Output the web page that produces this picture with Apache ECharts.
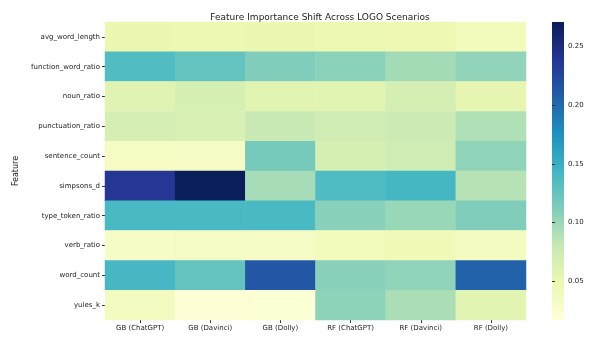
<!DOCTYPE html>
<html>
<head>
<meta charset="utf-8">
<script src="https://cdn.jsdelivr.net/npm/echarts@6/dist/echarts.min.js"></script>
<style>html,body{margin:0;padding:0;background:#fff;}#c{width:592px;height:338px;}</style>
</head>
<body>
<div id="c"></div>
<script>
const scenarios = ['GB (ChatGPT)', 'GB (Davinci)', 'GB (Dolly)', 'RF (ChatGPT)', 'RF (Davinci)', 'RF (Dolly)'];
const features = ['avg_word_length', 'function_word_ratio', 'noun_ratio', 'punctuation_ratio', 'sentence_count', 'simpsons_d', 'type_token_ratio', 'verb_ratio', 'word_count', 'yules_k'];
// one array per feature, values per scenario
const avg_word_length     = [0.050, 0.048, 0.050, 0.048, 0.047, 0.040];
const function_word_ratio = [0.136, 0.126, 0.112, 0.107, 0.096, 0.104];
const noun_ratio          = [0.060, 0.068, 0.058, 0.058, 0.070, 0.055];
const punctuation_ratio   = [0.070, 0.066, 0.080, 0.074, 0.076, 0.091];
const sentence_count      = [0.035, 0.033, 0.117, 0.068, 0.075, 0.105];
const simpsons_d          = [0.238, 0.270, 0.095, 0.137, 0.142, 0.088];
const type_token_ratio    = [0.140, 0.140, 0.140, 0.108, 0.101, 0.112];
const verb_ratio          = [0.032, 0.034, 0.033, 0.040, 0.043, 0.037];
const word_count          = [0.141, 0.126, 0.213, 0.108, 0.105, 0.205];
const yules_k             = [0.037, 0.020, 0.022, 0.106, 0.093, 0.058];
const colorbarTicks = [0.05, 0.10, 0.15, 0.20, 0.25];
const vMin = 0.017, vMax = 0.271;
const ylgnbu = ['#ffffd9', '#edf8b1', '#c7e9b4', '#7fcdbb', '#41b6c4', '#1d91c0', '#225ea8', '#253494', '#081d58'];

const rows = [avg_word_length, function_word_ratio, noun_ratio, punctuation_ratio, sentence_count, simpsons_d, type_token_ratio, verb_ratio, word_count, yules_k];
const data = [];
rows.forEach((r, yi) => r.forEach((v, xi) => data.push([xi, yi, v])));

const cbLeft = 552, cbTop = 22, cbW = 12, cbH = 298;
const gradStops = ylgnbu.map((c, i) => ({ offset: 1 - i / (ylgnbu.length - 1), color: c }));

const chart = echarts.init(document.getElementById('c'));
const font = 'DejaVu Sans';
chart.setOption({
  animation: false,
  backgroundColor: '#fff',
  title: {
    text: 'Feature Importance Shift Across LOGO Scenarios',
    left: 315, top: 8, textAlign: 'center',
    textStyle: { fontFamily: font, fontSize: 9, fontWeight: 'normal', color: '#222' }
  },
  grid: [
    { left: 105, right: 66, top: 22, bottom: 18 },
    { left: cbLeft, width: cbW, top: cbTop, height: cbH }
  ],
  xAxis: [
    { type: 'category', data: scenarios, gridIndex: 0,
      axisLine: { show: false }, splitLine: { show: false },
      axisTick: { show: true, alignWithLabel: true, length: 3, lineStyle: { color: '#333' } },
      axisLabel: { fontFamily: font, fontSize: 7, color: '#222', margin: 5 } },
    { type: 'value', gridIndex: 1, show: false }
  ],
  yAxis: [
    { type: 'category', data: features, gridIndex: 0, inverse: true,
      name: 'Feature', nameLocation: 'middle', nameGap: 81, nameRotate: 90,
      nameTextStyle: { fontFamily: font, fontSize: 8, color: '#222' },
      axisLine: { show: false }, splitLine: { show: false },
      axisTick: { show: true, alignWithLabel: true, length: 3, lineStyle: { color: '#333' } },
      axisLabel: { fontFamily: font, fontSize: 7, color: '#222', margin: 5 } },
    { type: 'value', gridIndex: 1, position: 'right', min: vMin, max: vMax,
      axisLine: { show: false }, splitLine: { show: false },
      axisTick: { show: true, length: 3, customValues: colorbarTicks, lineStyle: { color: '#333' } },
      axisLabel: { fontFamily: font, fontSize: 7, color: '#222', margin: 4,
        customValues: colorbarTicks, formatter: v => v.toFixed(2) } }
  ],
  visualMap: {
    type: 'continuous', show: false, min: vMin, max: vMax,
    inRange: { color: ylgnbu }, seriesIndex: 0
  },
  graphic: [{
    type: 'rect', left: cbLeft, top: cbTop, z: -1,
    shape: { width: cbW, height: cbH },
    style: { fill: new echarts.graphic.LinearGradient(0, 0, 0, 1, gradStops.slice().sort((a, b) => a.offset - b.offset)) }
  }],
  series: [{
    type: 'heatmap', xAxisIndex: 0, yAxisIndex: 0, data: data,
    itemStyle: { borderWidth: 0 }, emphasis: { disabled: true }
  }]
});
</script>
</body>
</html>
